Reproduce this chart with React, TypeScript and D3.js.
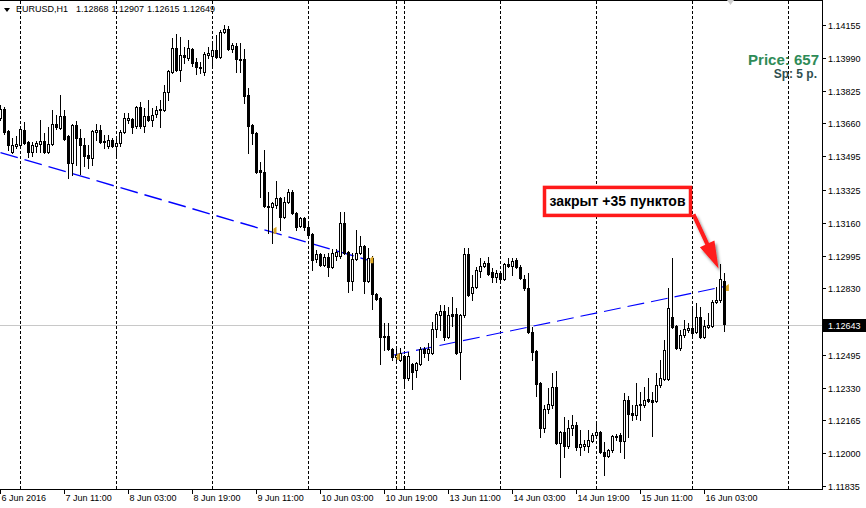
import React from "react";
import * as d3 from "d3";

// ---------- data ----------
const symbolTitle = "EURUSD,H1";
const headerValues = ["1.12868", "1.12907", "1.12615", "1.12649"];

// hourly candles: [open, high, low, close], bar 0 = 6 Jun 19:00
const ohlc: [number, number, number, number][] = [
  [1.13688, 1.13753, 1.13677, 1.13733], [1.13733, 1.13743, 1.13607, 1.13617], [1.13622, 1.13627, 1.13527, 1.13552],
  [1.13517, 1.13587, 1.13512, 1.13552], [1.13547, 1.13597, 1.13537, 1.13557], [1.13552, 1.13647, 1.13542, 1.13632],
  [1.13627, 1.13667, 1.13557, 1.13562], [1.13567, 1.13572, 1.13492, 1.13517], [1.13517, 1.13567, 1.13497, 1.13552],
  [1.13547, 1.13572, 1.13517, 1.13562], [1.13557, 1.13677, 1.13517, 1.13572], [1.13572, 1.13612, 1.13512, 1.13517],
  [1.13517, 1.13642, 1.13512, 1.13557], [1.13557, 1.13728, 1.13552, 1.13657], [1.13657, 1.13703, 1.13632, 1.13642],
  [1.13637, 1.13803, 1.13632, 1.13698], [1.13698, 1.13728, 1.13577, 1.13582], [1.13597, 1.13602, 1.13386, 1.13461],
  [1.13461, 1.13657, 1.13401, 1.13652], [1.13652, 1.13672, 1.13451, 1.13587], [1.13587, 1.13632, 1.13406, 1.13552],
  [1.13552, 1.13587, 1.13446, 1.13497], [1.13502, 1.13552, 1.13436, 1.13487], [1.13487, 1.13627, 1.13451, 1.13622],
  [1.13617, 1.13657, 1.13577, 1.13627], [1.13627, 1.13652, 1.13562, 1.13567], [1.13572, 1.13602, 1.13537, 1.13567],
  [1.13547, 1.13602, 1.13537, 1.13577], [1.13577, 1.13587, 1.13542, 1.13547], [1.13547, 1.13592, 1.13502, 1.13562],
  [1.13562, 1.13627, 1.13547, 1.13617], [1.13617, 1.13713, 1.13612, 1.13688], [1.13677, 1.13713, 1.13662, 1.13688],
  [1.13683, 1.13688, 1.13612, 1.13642], [1.13647, 1.13748, 1.13637, 1.13743], [1.13743, 1.13768, 1.13637, 1.13647],
  [1.13647, 1.13738, 1.13617, 1.13698], [1.13698, 1.13778, 1.13672, 1.13677], [1.13677, 1.13738, 1.13647, 1.13703],
  [1.13708, 1.13748, 1.13693, 1.13728], [1.13728, 1.13778, 1.13642, 1.13733], [1.13728, 1.13854, 1.13723, 1.13818],
  [1.13818, 1.13929, 1.13778, 1.13924], [1.13919, 1.1409, 1.13914, 1.1404], [1.1404, 1.1411, 1.13924, 1.13929],
  [1.13929, 1.14095, 1.13874, 1.14005], [1.14005, 1.14045, 1.13964, 1.13995], [1.1399, 1.1408, 1.13979, 1.1404],
  [1.14035, 1.1404, 1.13949, 1.13964], [1.13969, 1.1399, 1.13909, 1.13944], [1.13944, 1.13969, 1.13914, 1.13939],
  [1.13919, 1.1402, 1.13904, 1.1401], [1.14005, 1.14045, 1.1399, 1.14015], [1.14, 1.14065, 1.13939, 1.1403],
  [1.1403, 1.14105, 1.1399, 1.13995], [1.13995, 1.1413, 1.1399, 1.1412], [1.1412, 1.14155, 1.14115, 1.14135],
  [1.14135, 1.1415, 1.1403, 1.14035], [1.14035, 1.14065, 1.1402, 1.14055], [1.1405, 1.14065, 1.13919, 1.13985],
  [1.13985, 1.14065, 1.13919, 1.13979], [1.13985, 1.14035, 1.13763, 1.13798], [1.13803, 1.13838, 1.13512, 1.13647],
  [1.13652, 1.13657, 1.13557, 1.13612], [1.13612, 1.13617, 1.13411, 1.13416], [1.13426, 1.13466, 1.1329, 1.13416],
  [1.13416, 1.13527, 1.1324, 1.13245], [1.13245, 1.13315, 1.13109, 1.1324], [1.1324, 1.13265, 1.13059, 1.1326],
  [1.1325, 1.13371, 1.13235, 1.13285], [1.13285, 1.1329, 1.13124, 1.13189], [1.13189, 1.1329, 1.13184, 1.13265],
  [1.13265, 1.1333, 1.1326, 1.13315], [1.13315, 1.13325, 1.13205, 1.1321], [1.1321, 1.13215, 1.13124, 1.13139],
  [1.13144, 1.13189, 1.13139, 1.13184], [1.13184, 1.13189, 1.13124, 1.13139], [1.13139, 1.13154, 1.13089, 1.13099],
  [1.13104, 1.13109, 1.12923, 1.12973], [1.12978, 1.13024, 1.12963, 1.13004], [1.13004, 1.13009, 1.12943, 1.12948],
  [1.12948, 1.13004, 1.12943, 1.12989], [1.12989, 1.13009, 1.12893, 1.12938], [1.12938, 1.13029, 1.12933, 1.13009],
  [1.12994, 1.13029, 1.12973, 1.13014], [1.12994, 1.13215, 1.12984, 1.13159], [1.13159, 1.13215, 1.13004, 1.13009],
  [1.13014, 1.13019, 1.12812, 1.12868], [1.12868, 1.13009, 1.12822, 1.12978], [1.12978, 1.13124, 1.12973, 1.13009],
  [1.13009, 1.13094, 1.13004, 1.13044], [1.13044, 1.13049, 1.12807, 1.12868], [1.12868, 1.13034, 1.12863, 1.12984],
  [1.12984, 1.12994, 1.12727, 1.12802], [1.12802, 1.12807, 1.12772, 1.12777], [1.12782, 1.12787, 1.1245, 1.12586],
  [1.12591, 1.12656, 1.12521, 1.12586], [1.12591, 1.12656, 1.12521, 1.12526], [1.12526, 1.12531, 1.1247, 1.12485],
  [1.12485, 1.12531, 1.1247, 1.12496], [1.1247, 1.12531, 1.12465, 1.12506], [1.12491, 1.12496, 1.12334, 1.1238],
  [1.1238, 1.12511, 1.1237, 1.12491], [1.1245, 1.12455, 1.12324, 1.1241], [1.1242, 1.1246, 1.12385, 1.12455],
  [1.1245, 1.12536, 1.12445, 1.12526], [1.12526, 1.12536, 1.12485, 1.12506], [1.12506, 1.12556, 1.1247, 1.12526],
  [1.12506, 1.12661, 1.12501, 1.12626], [1.12626, 1.12712, 1.12586, 1.12702], [1.12697, 1.12747, 1.12621, 1.12717],
  [1.12717, 1.12747, 1.12571, 1.12586], [1.12586, 1.12737, 1.12581, 1.12697], [1.12702, 1.12787, 1.12641, 1.12692],
  [1.12702, 1.12732, 1.12501, 1.12506], [1.12511, 1.12702, 1.12375, 1.12697], [1.12697, 1.13034, 1.12687, 1.13004],
  [1.13004, 1.13034, 1.12792, 1.12797], [1.12807, 1.12898, 1.12772, 1.12837], [1.12837, 1.12938, 1.12832, 1.12923],
  [1.12918, 1.12984, 1.12888, 1.12943], [1.12943, 1.12968, 1.12938, 1.12958], [1.12958, 1.12989, 1.12898, 1.12903],
  [1.12913, 1.12933, 1.12863, 1.12888], [1.12888, 1.12923, 1.12863, 1.12908], [1.12908, 1.12913, 1.12863, 1.12878],
  [1.12878, 1.12958, 1.12873, 1.12953], [1.12953, 1.12984, 1.12938, 1.12943], [1.12943, 1.12984, 1.12898, 1.12968],
  [1.12973, 1.12984, 1.12933, 1.12938], [1.12938, 1.12948, 1.12878, 1.12883], [1.12878, 1.12898, 1.12822, 1.12832],
  [1.12832, 1.12908, 1.12606, 1.12611], [1.12611, 1.12636, 1.1247, 1.12511], [1.12516, 1.12521, 1.12289, 1.1235],
  [1.12355, 1.1236, 1.12083, 1.12128], [1.12128, 1.12244, 1.12108, 1.12224], [1.12224, 1.12329, 1.12204, 1.12249],
  [1.12244, 1.12405, 1.12229, 1.12334], [1.12334, 1.12415, 1.12048, 1.12053], [1.12053, 1.12113, 1.11882, 1.12108],
  [1.12108, 1.12184, 1.11982, 1.12038], [1.12038, 1.12168, 1.12028, 1.12128], [1.12128, 1.12194, 1.12093, 1.12143],
  [1.12143, 1.12158, 1.12018, 1.12033], [1.12033, 1.12118, 1.11993, 1.12048], [1.12038, 1.12068, 1.12018, 1.12048],
  [1.12038, 1.12118, 1.12008, 1.12068], [1.12063, 1.12103, 1.12058, 1.12093], [1.12093, 1.12153, 1.12088, 1.12108],
  [1.12108, 1.12113, 1.12003, 1.12008], [1.12008, 1.12058, 1.11892, 1.11988], [1.11988, 1.12023, 1.11982, 1.12018],
  [1.12018, 1.12093, 1.12008, 1.12088], [1.12088, 1.12098, 1.12068, 1.12083], [1.12093, 1.12103, 1.12008, 1.12063],
  [1.12063, 1.12304, 1.11977, 1.12269], [1.12269, 1.12289, 1.12083, 1.12199], [1.12204, 1.12244, 1.12168, 1.12194],
  [1.12194, 1.12355, 1.12173, 1.12244], [1.12244, 1.12309, 1.12168, 1.12249], [1.12244, 1.12334, 1.12234, 1.12269],
  [1.12274, 1.1238, 1.12259, 1.12264], [1.12269, 1.12309, 1.12088, 1.12259], [1.12264, 1.12405, 1.12259, 1.12345],
  [1.12345, 1.1247, 1.12334, 1.1238], [1.12375, 1.12571, 1.1237, 1.12521], [1.12375, 1.12832, 1.1237, 1.12732],
  [1.12687, 1.12984, 1.12631, 1.12636], [1.12641, 1.12646, 1.12526, 1.12531], [1.12531, 1.12621, 1.12521, 1.12596],
  [1.12596, 1.12671, 1.12586, 1.12626], [1.12621, 1.12656, 1.12611, 1.12631], [1.12631, 1.12737, 1.12586, 1.12606],
  [1.12611, 1.12757, 1.12606, 1.12687], [1.12687, 1.12737, 1.12581, 1.12586], [1.12586, 1.12671, 1.12581, 1.12641],
  [1.12636, 1.12707, 1.12631, 1.12646], [1.12641, 1.12772, 1.12636, 1.12762], [1.12762, 1.12837, 1.12757, 1.12772],
  [1.12772, 1.12953, 1.12762, 1.12878], [1.12868, 1.12907, 1.12615, 1.12649],
];

const priceTicks = [
  1.14155, 1.1399, 1.13825, 1.1366, 1.13495, 1.13325, 1.1316, 1.12995,
  1.1283, 1.12665, 1.12495, 1.1233, 1.12165, 1.12, 1.11835,
];
const timeLabels = [
  "6 Jun 2016", "7 Jun 11:00", "8 Jun 03:00", "8 Jun 19:00", "9 Jun 11:00", "10 Jun 03:00",
  "10 Jun 19:00", "13 Jun 11:00", "14 Jun 03:00", "14 Jun 19:00", "15 Jun 11:00", "16 Jun 03:00",
];
const timeLabelBars = [0, 16, 32, 48, 64, 80, 96, 112, 128, 144, 160, 176];
const daySeparatorBars = [5, 29, 53, 77, 99, 101, 125, 149, 173, 197];
const bidPrice = 1.12643;
const sellTradeLine: [number, number][] = [[0, 1.13513], [92.5, 1.12968]];
const buyTradeLine: [number, number][] = [[98, 1.12493], [181, 1.12839]];
const tradeMarks: [number, number][] = [[68.5, 1.13119], [92.7, 1.12971], [99.3, 1.12485], [181.6, 1.12832]];
const priceInfo = "Price: 657";
const spreadInfo = "Sp: 5 p.";
const annotationText = "закрыт +35 пунктов";
const annotationPoint: [number, number] = [179.5, 1.1293];

const FONT = "'Liberation Sans', Arial, sans-serif";

export default function App() {
  const W = 866;
  const H = 508;
  const plotRight = 822;
  const plotBottom = 489;

  const x = d3.scaleLinear().domain([0, 1]).range([0.5, 4.5]);
  const y = d3
    .scaleLinear()
    .domain([priceTicks[0], priceTicks[priceTicks.length - 1]])
    .range([25, 486]);
  const py = (p: number) => Math.round(y(p));
  const fmt = d3.format(".5f");

  const lineGen = d3
    .line<[number, number]>()
    .x((d) => x(d[0]))
    .y((d) => y(d[1]));

  const bidY = py(bidPrice) + 0.5;

  // annotation geometry
  const tipX = x(annotationPoint[0]);
  const tipY = y(annotationPoint[1]);
  const startX = tipX - 25;
  const startY = tipY - 54;
  const dx = tipX - startX;
  const dy = tipY - startY;
  const len = Math.hypot(dx, dy);
  const ux = dx / len;
  const uy = dy / len;
  const pxv = uy;
  const pyv = -ux;
  const headLen = 27;
  const headHalf = 8;
  const shaftHalf = 2;
  const bx = tipX - ux * headLen;
  const by = tipY - uy * headLen;
  const arrowPts = [
    [startX + pxv * shaftHalf, startY + pyv * shaftHalf],
    [bx + pxv * shaftHalf, by + pyv * shaftHalf],
    [bx + pxv * headHalf, by + pyv * headHalf],
    [tipX, tipY],
    [bx - pxv * headHalf, by - pyv * headHalf],
    [bx - pxv * shaftHalf, by - pyv * shaftHalf],
    [startX - pxv * shaftHalf, startY - pyv * shaftHalf],
  ]
    .map((p) => p.join(","))
    .join(" ");
  const boxRight = tipX - 28;
  const boxBottom = tipY - 53;
  const boxW = 146;
  const boxH = 28;

  return (
    <svg
      width={W}
      height={H}
      style={{ position: "absolute", left: 0, top: 0, background: "#fff" }}
      fontFamily={FONT}
    >
      <defs>
        <filter id="arrowShadow" x="-50%" y="-50%" width="200%" height="200%">
          <feDropShadow dx="2" dy="3" stdDeviation="1.6" floodColor="#000" floodOpacity="0.45" />
        </filter>
      </defs>
      <rect x={0} y={0} width={W} height={H} fill="#fff" />

      {/* day separators */}
      {daySeparatorBars.map((b) => (
        <line
          key={"sep" + b}
          x1={x(b)}
          x2={x(b)}
          y1={1}
          y2={plotBottom}
          stroke="#000"
          strokeDasharray="3,2"
        />
      ))}

      {/* bid line */}
      <line x1={0} x2={plotRight} y1={bidY} y2={bidY} stroke="#c8c8c8" />

      {/* trade lines */}
      <path d={lineGen(sellTradeLine) || ""} fill="none" stroke="#0000ff" strokeWidth={1.4} strokeDasharray="18,7" />
      <path d={lineGen(buyTradeLine) || ""} fill="none" stroke="#0000ff" strokeWidth={1.1} strokeDasharray="17,7" />

      {/* candles */}
      {ohlc.map(([o, h, l, c], i) => {
        const cx = x(i);
        const up = c >= o;
        const top = py(Math.max(o, c));
        const bot = py(Math.min(o, c));
        return (
          <g key={"c" + i}>
            <line x1={cx} x2={cx} y1={py(h)} y2={py(l) + 1} stroke="#000" />
            {bot - top > 0 ? (
              <rect
                x={cx - 1}
                y={top + 0.5}
                width={2}
                height={bot - top}
                fill={up ? "#fff" : "#000"}
                stroke="#000"
              />
            ) : (
              <line x1={cx - 1.5} x2={cx + 1.5} y1={top + 0.5} y2={top + 0.5} stroke="#000" />
            )}
          </g>
        );
      })}

      {/* trade markers */}
      {tradeMarks.map(([b, p], k) => {
        const mx = x(b);
        const my = y(p);
        return (
          <polygon
            key={"m" + k}
            points={`${mx - 1},${my - 2} ${mx + 2},${my - 4} ${mx + 2},${my + 3} ${mx - 1},${my + 3}`}
            fill="#DAA520"
          />
        );
      })}

      {/* frame */}
      <line x1={0} x2={plotRight + 0.5} y1={0.5} y2={0.5} stroke="#000" />
      <line x1={plotRight + 0.5} x2={plotRight + 0.5} y1={0} y2={plotBottom + 1} stroke="#000" />
      <line x1={0} x2={plotRight + 0.5} y1={plotBottom + 0.5} y2={plotBottom + 0.5} stroke="#000" />

      {/* header */}
      <polygon points="4,8 10,8 7,12" fill="#000" />
      <text x={16} y={12} fontSize={9} fill="#000">
        {symbolTitle}
      </text>
      {headerValues.map((v, k) => (
        <text key={"hv" + k} x={76 + k * 35.5} y={12} fontSize={9} fill="#000">
          {v}
        </text>
      ))}
      <polygon points="727,0 734,0 730.5,5" fill="#cfcfcf" />

      {/* info texts */}
      <text x={819} y={65} fontSize={15} fontWeight="bold" fill="#2E8B57" textAnchor="end">
        {priceInfo}
      </text>
      <text x={817} y={78} fontSize={12} fontWeight="bold" fill="#2F4F4F" textAnchor="end">
        {spreadInfo}
      </text>

      {/* price axis */}
      {priceTicks.map((t) => {
        const ty = py(t) + 0.5;
        return (
          <g key={"pt" + t}>
            <line x1={plotRight + 1} x2={plotRight + 4} y1={ty} y2={ty} stroke="#000" />
            <text x={828} y={ty + 3.5} fontSize={9} fill="#000">
              {fmt(t)}
            </text>
          </g>
        );
      })}
      <rect x={plotRight + 1} y={bidY - 6.5} width={W - plotRight - 1} height={13} fill="#000" />
      <text x={828} y={bidY + 3.5} fontSize={9} fill="#fff">
        {fmt(bidPrice)}
      </text>

      {/* time axis */}
      {timeLabels.map((lab, k) => {
        const tx = x(timeLabelBars[k]);
        return (
          <g key={"tl" + k}>
            <line x1={tx} x2={tx} y1={plotBottom + 1} y2={plotBottom + 5} stroke="#000" />
            <text x={tx + 1} y={501} fontSize={9} fill="#000">
              {lab}
            </text>
          </g>
        );
      })}

      {/* annotation */}
      <polygon points={arrowPts} fill="#ff1a1a" filter="url(#arrowShadow)" />
      <rect
        x={boxRight - boxW}
        y={boxBottom - boxH}
        width={boxW}
        height={boxH}
        fill="#fff"
        stroke="#ff1a1a"
        strokeWidth={3.5}
      />
      <text
        x={boxRight - boxW / 2}
        y={boxBottom - 9}
        fontSize={14}
        fontWeight="bold"
        fill="#000"
        textAnchor="middle"
      >
        {annotationText}
      </text>
    </svg>
  );
}
